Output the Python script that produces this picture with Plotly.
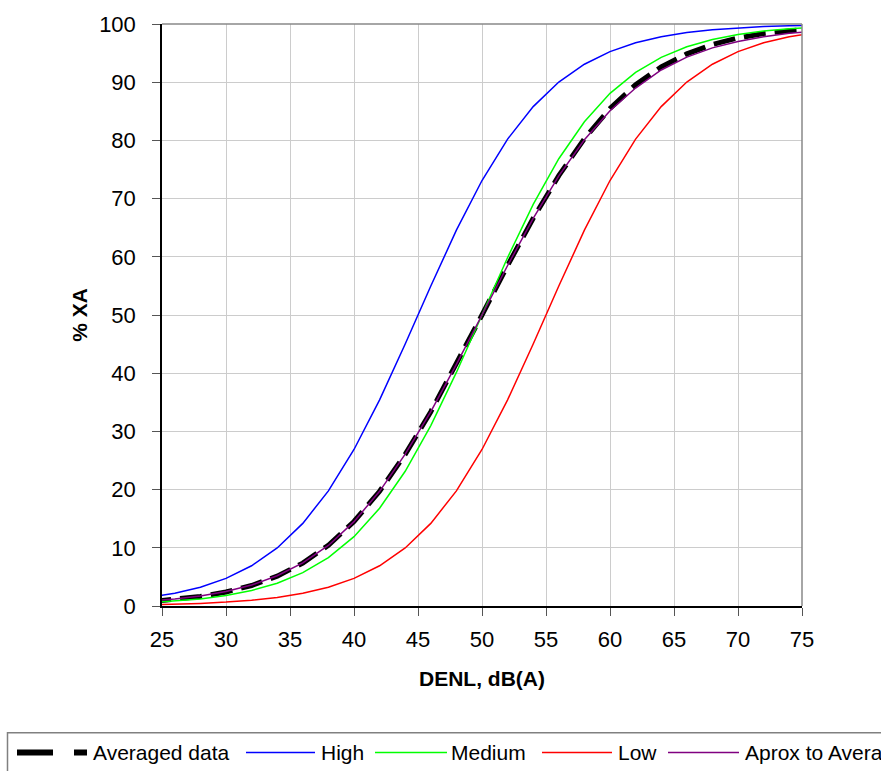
import plotly.graph_objects as go

# DENL, dB(A)
denl = [24, 26, 28, 30, 32, 34, 36, 38, 40, 42, 44, 46, 48, 50, 52, 54, 56, 58, 60,
        62, 64, 66, 68, 70, 72, 74, 76]

high = [1.48, 2.19, 3.23, 4.74, 6.91, 9.98, 14.19, 19.78, 26.89, 35.43, 45.02, 54.98,
        64.57, 73.11, 80.22, 85.81, 90.02, 93.09, 95.26, 96.77, 97.81, 98.52, 99.00,
        99.33, 99.55, 99.70, 99.80]
medium = [0.55, 0.82, 1.21, 1.80, 2.66, 3.92, 5.73, 8.32, 11.92, 16.80, 23.15, 31.00,
          40.13, 50.00, 59.87, 69.00, 76.85, 83.20, 88.08, 91.68, 94.27, 96.08, 97.34,
          98.20, 98.79, 99.18, 99.45]
low = [0.20, 0.30, 0.45, 0.67, 1.00, 1.48, 2.19, 3.23, 4.74, 6.91, 9.98, 14.19, 19.78,
       26.89, 35.43, 45.02, 54.98, 64.57, 73.11, 80.22, 85.81, 90.02, 93.09, 95.26,
       96.77, 97.81, 98.52]
averaged = [0.74, 1.10, 1.63, 2.40, 3.52, 5.13, 7.37, 10.44, 14.52, 19.71, 26.05, 33.39,
            41.49, 50.00, 58.51, 66.61, 73.95, 80.29, 85.48, 89.56, 92.63, 94.87, 96.48,
            97.60, 98.37, 98.90, 99.26]
aprox = [0.9, 1.2, 1.7, 2.5, 3.6, 5.2, 7.4, 10.4, 14.5, 19.7, 26.1, 33.4, 41.5, 50.0,
         58.5, 66.6, 73.9, 80.1, 85.1, 89.0, 92.1, 94.3, 95.9, 97.0, 97.8, 98.4, 98.8]

series_names = ["Averaged data", "High", "Medium", "Low", "Aprox to Average data"]
series_colors = ["#000000", "#0000FF", "#00FF00", "#FF0000", "#800080"]

x_ticks = [25, 30, 35, 40, 45, 50, 55, 60, 65, 70, 75]
y_ticks = [0, 10, 20, 30, 40, 50, 60, 70, 80, 90, 100]

FONT = "Liberation Sans, Arial, sans-serif"

fig = go.Figure()
fig.add_trace(go.Scatter(x=denl, y=averaged, mode="lines", name=series_names[0],
                         line=dict(color=series_colors[0], width=5, dash="22px,9px")))
fig.add_trace(go.Scatter(x=denl, y=high, mode="lines", name=series_names[1],
                         line=dict(color=series_colors[1], width=1.5)))
fig.add_trace(go.Scatter(x=denl, y=medium, mode="lines", name=series_names[2],
                         line=dict(color=series_colors[2], width=1.5)))
fig.add_trace(go.Scatter(x=denl, y=low, mode="lines", name=series_names[3],
                         line=dict(color=series_colors[3], width=1.5)))
fig.add_trace(go.Scatter(x=denl, y=aprox, mode="lines", name=series_names[4],
                         line=dict(color=series_colors[4], width=1.5)))

L, R, T, B = 162, 79, 20, 165
W, H = 881, 771
pw, ph = W - L - R, H - T - B


def px(xp):
    return (xp - L) / pw


def py(yp):
    return (H - B - yp) / ph


shapes = []
# plot frame (top & right, gray)
shapes.append(dict(type="line", xref="paper", yref="paper", x0=0, x1=1, y0=1, y1=1,
                   line=dict(color="#888888", width=1.5)))
shapes.append(dict(type="line", xref="paper", yref="paper", x0=1, x1=1, y0=0, y1=1,
                   line=dict(color="#888888", width=1.5)))
# legend box
shapes.append(dict(type="rect", xref="paper", yref="paper", x0=px(7.5), x1=px(905),
                   y0=py(800), y1=py(733.5), line=dict(color="#808080", width=1.5),
                   fillcolor="rgba(0,0,0,0)"))

annotations = []
leg_y = py(753.5)
seg = [(17, 87), (246, 315), (375, 447), (542, 612), (668, 739)]
txt_x = [91, 319, 449, 616, 743]
for i, (a, b) in enumerate(seg):
    if i == 0:
        ln = dict(color=series_colors[0], width=6, dash="36px,21px")
    else:
        ln = dict(color=series_colors[i], width=1.5)
    shapes.append(dict(type="line", xref="paper", yref="paper", x0=px(a), x1=px(b),
                       y0=leg_y, y1=leg_y, line=ln))
    annotations.append(dict(xref="paper", yref="paper", x=px(txt_x[i]), y=leg_y,
                            xanchor="left", yanchor="middle", showarrow=False,
                            text=series_names[i], font=dict(family=FONT, size=21, color="black")))

fig.update_layout(
    width=W, height=H,
    margin=dict(l=L, r=R, t=T, b=B, pad=0),
    paper_bgcolor="white", plot_bgcolor="white",
    showlegend=False,
    font=dict(family=FONT, size=20, color="black"),
    shapes=shapes,
    annotations=annotations,
    xaxis=dict(range=[25, 75], tickvals=x_ticks, ticks="outside", ticklen=8,
               tickcolor="#555555", showgrid=True, gridcolor="#cccccc", gridwidth=1,
               showline=True, linecolor="black", linewidth=1.5, zeroline=False,
               tickfont=dict(size=22), ticklabelstandoff=5,
               title=dict(text="<b>DENL, dB(A)</b>", font=dict(size=21), standoff=20)),
    yaxis=dict(range=[0, 100], tickvals=y_ticks, ticks="outside", ticklen=8,
               tickcolor="#555555", showgrid=True, gridcolor="#cccccc", gridwidth=1,
               showline=True, linecolor="black", linewidth=1.5, zeroline=False,
               tickfont=dict(size=22), ticklabelstandoff=12,
               title=dict(text="<b>% XA</b>", font=dict(size=21), standoff=6)),
)

fig.write_html("out.html", post_script="document.body.style.margin='0';",
               config={"displayModeBar": False})
